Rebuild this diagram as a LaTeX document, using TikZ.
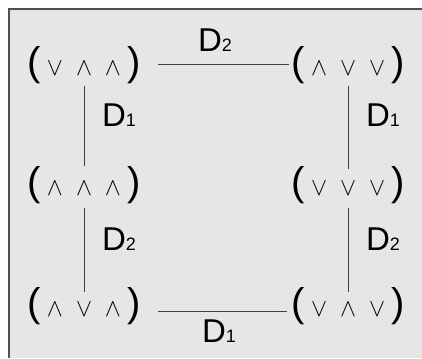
\documentclass[tikz,border=0pt]{standalone}
\usepackage{fontspec}
\usepackage{graphicx}
\setmainfont{Liberation Sans}
\definecolor{bg}{HTML}{E6E6E6}
\definecolor{framec}{HTML}{505050}
\definecolor{connc}{HTML}{404040}
\newcommand{\sy}[1]{\makebox[29pt]{\resizebox{16pt}{14pt}{$#1$}}}
\newcommand{\tri}[3]{\fontsize{40}{40}\selectfont(\sy{#1}\sy{#2}\sy{#3})}
\newcommand{\lab}[1]{\fontsize{33}{33}\selectfont D\fontsize{18}{18}\selectfont #1}
\tikzset{
  st/.style={inner sep=0pt, outer sep=0pt},
  lb/.style={inner sep=0pt, outer sep=0pt, anchor=base},
  cn/.style={draw=connc, line width=1pt}
}
\begin{document}
\begin{tikzpicture}[x=1pt,y=-1pt]
\useasboundingbox (0,0) rectangle (422,358);
\fill[bg] (9,9) rectangle (422,358);
\draw[framec, line width=1.5pt] (9,358) -- (9,9) -- (422,9);

\node[st] (TL) at (84,65) {\tri{\vee}{\wedge}{\wedge}};
\node[st] (TR) at (348,65) {\tri{\wedge}{\vee}{\vee}};
\node[st] (ML) at (84,185) {\tri{\wedge}{\wedge}{\wedge}};
\node[st] (MR) at (348,185) {\tri{\vee}{\vee}{\vee}};
\node[st] (BL) at (84,306) {\tri{\wedge}{\vee}{\wedge}};
\node[st] (BR) at (348,306) {\tri{\vee}{\wedge}{\vee}};

\draw[cn] ([xshift=17pt]TL.east) -- ([xshift=-2pt]TR.west);
\draw[cn] ([xshift=17pt,yshift=-5pt]BL.east) -- ([xshift=-4pt,yshift=-5pt]BR.west);
\draw[cn] ([yshift=-2pt]TL.south) -- (ML.north);
\draw[cn] ([yshift=-4pt]ML.south) -- ([yshift=-5pt]BL.north);
\draw[cn] ([yshift=-2pt]TR.south) -- ([yshift=-3pt]MR.north);
\draw[cn] ([yshift=-4pt]MR.south) -- ([yshift=-5pt]BR.north);

\node[lb] (d2t) at (215,52) {\lab{2}};
\node[lb] (d1l) at (119,127) {\lab{1}};
\node[lb] (d1r) at (383,127) {\lab{1}};
\node[lb] (d2l) at (119,250) {\lab{2}};
\node[lb] (d2r) at (383,250) {\lab{2}};
\node[lb] (d1b) at (219,342) {\lab{1}};
\end{tikzpicture}
\end{document}
